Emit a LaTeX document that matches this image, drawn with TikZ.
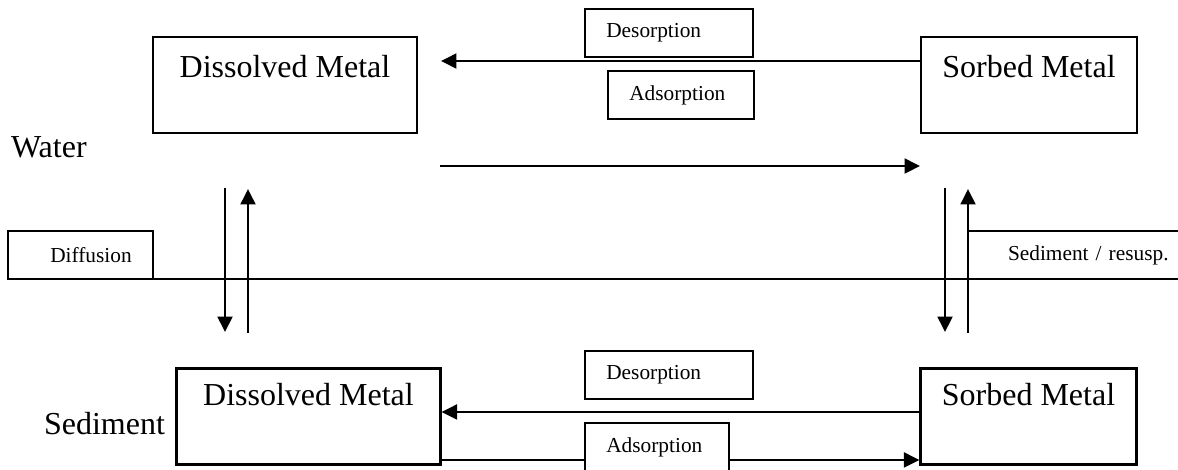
\documentclass[tikz,border=0pt]{standalone}
\usepackage{fontspec}
\setmainfont{Liberation Serif}
\usetikzlibrary{arrows.meta}

\begin{document}
\begin{tikzpicture}[
  x=0.375pt, y=-0.375pt, line width=0.8pt,
  every node/.style={font=\fontsize{12}{14}\selectfont},
  metal/.style={draw, inner ysep=0pt, text height=15pt, text depth=21pt, minimum width=#1},
  tag/.style={draw, fill=white, font=\fontsize{8}{9.6}\selectfont, inner ysep=0pt, inner xsep=8pt, minimum height=18pt, align=left, text width=#1},
  arr/.style={-{Triangle[length=5.8pt, width=5.6pt]}},
]
\clip (0,0) rectangle (1178,469);
% compartments
\node[metal=99pt] (dw) at (285,85) {Dissolved Metal};
\node[metal=81pt] (sw) at (1029,85) {Sorbed Metal};
\node[metal=99pt, text height=14pt, text depth=22pt] (ds) at (308.5,416.5) {Dissolved Metal};
\node[metal=81pt, text height=14pt, text depth=22pt] (ss) at (1028.5,416.5) {Sorbed Metal};
\node[anchor=base west, inner sep=0pt] (water) at (10,157) {Water};
\node[anchor=base west, inner sep=0pt] (sediment) at (43,434) {Sediment};
% water exchange
\coordinate (desend) at (441,61);
\coordinate (adsstart) at (440,166);
\coordinate (adsend) at (920,166);
\draw[arr] (sw.west |- desend) -- (desend);
\draw[arr] (adsstart) -- (adsend);
% vertical exchange
\coordinate (ldtop) at (225,188);
\coordinate (ldbot) at (225,332);
\coordinate (lubot) at (248,333);
\coordinate (lutop) at (248,189);
\coordinate (rdtop) at (945,188);
\coordinate (rdbot) at (945,332);
\coordinate (rubot) at (968,333);
\coordinate (rutop) at (968,189);
\draw[arr] (ldtop) -- (ldbot);
\draw[arr] (lubot) -- (lutop);
\draw[arr] (rdtop) -- (rdbot);
\draw[arr] (rubot) -- (rutop);
% sediment exchange
\draw[arr] ([yshift=1.7pt]ss.west) -- ([yshift=1.7pt]ds.east);
\draw[arr] ([yshift=-16.3pt]ds.east) -- ([yshift=-16.3pt]ss.west);
% process labels
\node[tag=47pt] (destop) at (669,33) {Desorption};
\node[tag=38.75pt] (adstop) at (681,95) {Adsorption};
\node[tag=47pt] (desbot) at (669,375) {Desorption};
\node[tag=38pt] (adsbot) at (657,447) {Adsorption};
\node[tag=38.4pt, align=right] (diff) at (80.5,255) {Diffusion};
\node[tag=64.5pt, inner xsep=15pt] (resusp) at (1094,255) {Sediment / resusp.};
% interface
\coordinate (bedleft) at (57,279);
\coordinate (bedright) at (1178,279);
\draw (bedleft) -- (bedright);
\end{tikzpicture}
\end{document}
